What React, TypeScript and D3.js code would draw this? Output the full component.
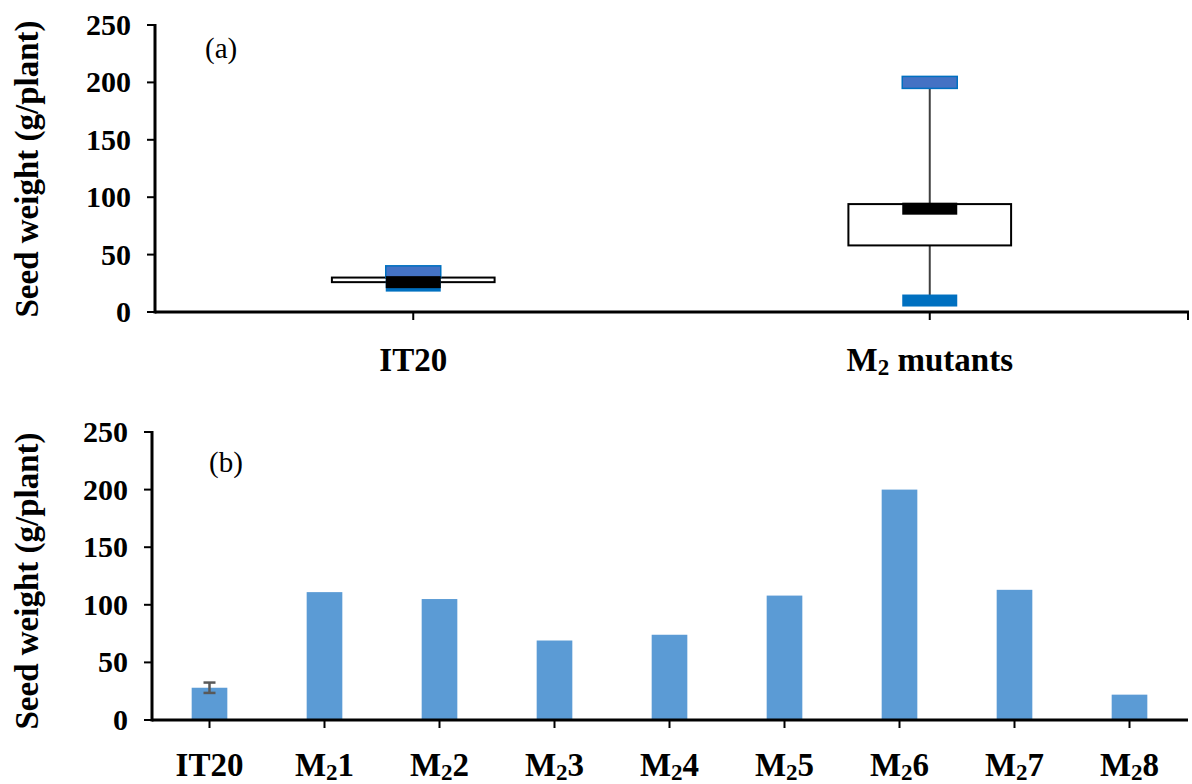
import React from "react";
import * as d3 from "d3";

// panel (a) box summary
const boxCategories = ["IT20", "M2 mutants"];
const boxMin = [23, 10];
const boxQ1 = [26, 58];
const boxMedian = [26, 90];
const boxQ3 = [30, 94];
const boxMax = [35, 200];

// panel (b) bars
const barCategories = ["IT20", "M21", "M22", "M23", "M24", "M25", "M26", "M27", "M28"];
const barValues = [28, 111, 105, 69, 74, 108, 200, 113, 22];
const barErrors = [4.5, 0, 0, 0, 0, 0, 0, 0, 0];

const yTicks = [0, 50, 100, 150, 200, 250];

const FONT = "'Liberation Serif', 'Times New Roman', 'DejaVu Serif', serif";

// renders "M2..." with subscript 2
const CatLabel = ({ name, x, y, size }: { name: string; x: number; y: number; size: number }) => {
  if (!name.startsWith("M2")) {
    return (
      <text x={x} y={y} textAnchor="middle" fontFamily={FONT} fontWeight="bold" fontSize={size}>
        {name}
      </text>
    );
  }
  const rest = name.slice(2);
  return (
    <text x={x} y={y} textAnchor="middle" fontFamily={FONT} fontWeight="bold" fontSize={size}>
      M
      <tspan fontSize={size * 0.7} dy={size * 0.12}>2</tspan>
      <tspan dy={-size * 0.12}>{rest}</tspan>
    </text>
  );
};

const YAxis = ({ y, x0 }: { y: d3.ScaleLinear<number, number>; x0: number }) => (
  <g>
    <line x1={x0} x2={x0} y1={y(250) - 1} y2={y(0) + 1.5} stroke="#000" strokeWidth={3} />
    {yTicks.map((t) => (
      <g key={t}>
        <line x1={x0 - 8} x2={x0} y1={y(t)} y2={y(t)} stroke="#000" strokeWidth={2} />
        <text
          x={x0 - 24}
          y={y(t) + 10}
          textAnchor="end"
          fontFamily={FONT}
          fontWeight="bold"
          fontSize={30}
        >
          {t}
        </text>
      </g>
    ))}
  </g>
);

const App = () => {
  // ---- panel (a)
  const xa = d3.scaleBand<string>().domain(boxCategories).range([155, 1188]).padding(0);
  const ya = d3.scaleLinear().domain([0, 250]).range([312, 25]);
  const boxW = xa.bandwidth() * 0.315;
  const markW = 55;
  const markH = 12;

  // ---- panel (b)
  const xb = d3.scaleBand<string>().domain(barCategories).range([152, 1187]).padding(0);
  const yb = d3.scaleLinear().domain([0, 250]).range([720, 432]);
  const barW = xb.bandwidth() * 0.31;

  return (
    <svg
      width={1192}
      height={784}
      style={{ position: "absolute", left: 0, top: 0, background: "#fff" }}
    >
      {/* ===== panel (a) ===== */}
      <rect x={178} y={15} width={92} height={60} fill="#fff" />
      <text x={205} y={58} fontFamily={FONT} fontSize={29}>(a)</text>
      <text
        transform={`translate(38,169) rotate(-90)`}
        textAnchor="middle"
        fontFamily={FONT}
        fontWeight="bold"
        fontSize={33}
      >
        Seed weight (g/plant)
      </text>

      {boxCategories.map((c, i) => {
        const cx = (xa(c) as number) + xa.bandwidth() / 2;
        return (
          <g key={c}>
            {/* whiskers */}
            <line x1={cx} x2={cx} y1={ya(boxMax[i])} y2={ya(boxQ3[i])} stroke="#404040" strokeWidth={2} />
            <line x1={cx} x2={cx} y1={ya(boxQ1[i])} y2={ya(boxMin[i])} stroke="#404040" strokeWidth={2} />
            {/* box */}
            <rect
              x={cx - boxW / 2}
              y={ya(boxQ3[i])}
              width={boxW}
              height={Math.max(ya(boxQ1[i]) - ya(boxQ3[i]), 3)}
              fill="#fff"
              stroke="#000"
              strokeWidth={2}
            />
            {/* min marker */}
            <rect x={cx - markW / 2} y={ya(boxMin[i]) - markH / 2} width={markW} height={markH} fill="#0070c0" />
            {/* max marker */}
            <rect
              x={cx - markW / 2}
              y={ya(boxMax[i]) - markH / 2}
              width={markW}
              height={markH}
              fill="#4472c4"
              stroke="#0070c0"
              strokeWidth={1.5}
            />
            {/* median */}
            <rect x={cx - markW / 2} y={ya(boxMedian[i]) - markH / 2} width={markW} height={markH} fill="#000" />
          </g>
        );
      })}

      <YAxis y={ya} x0={155} />
      <line x1={155} x2={1189} y1={ya(0)} y2={ya(0)} stroke="#000" strokeWidth={3} />
      {boxCategories.map((c) => {
        const cx = (xa(c) as number) + xa.bandwidth() / 2;
        return <line key={c} x1={cx} x2={cx} y1={ya(0)} y2={ya(0) + 8} stroke="#000" strokeWidth={2} />;
      })}
      <line x1={1188} x2={1188} y1={ya(0)} y2={ya(0) + 8} stroke="#000" strokeWidth={2} />
      {boxCategories.map((c) => (
        <CatLabel key={c} name={c} x={(xa(c) as number) + xa.bandwidth() / 2} y={371} size={33} />
      ))}

      {/* ===== panel (b) ===== */}
      <rect x={183} y={430} width={95} height={62} fill="#fff" />
      <text x={209} y={472} fontFamily={FONT} fontSize={29}>(b)</text>
      <text
        transform={`translate(38,581) rotate(-90)`}
        textAnchor="middle"
        fontFamily={FONT}
        fontWeight="bold"
        fontSize={33}
      >
        Seed weight (g/plant)
      </text>

      {barCategories.map((c, i) => {
        const cx = (xb(c) as number) + xb.bandwidth() / 2;
        return (
          <g key={c}>
            <rect
              x={cx - barW / 2}
              y={yb(barValues[i])}
              width={barW}
              height={yb(0) - yb(barValues[i])}
              fill="#5b9bd5"
            />
            {barErrors[i] > 0 && (
              <g stroke="#595959" strokeWidth={2.5}>
                <line x1={cx} x2={cx} y1={yb(barValues[i] + barErrors[i])} y2={yb(barValues[i] - barErrors[i])} />
                <line x1={cx - 6} x2={cx + 6} y1={yb(barValues[i] + barErrors[i])} y2={yb(barValues[i] + barErrors[i])} />
                <line x1={cx - 6} x2={cx + 6} y1={yb(barValues[i] - barErrors[i])} y2={yb(barValues[i] - barErrors[i])} />
              </g>
            )}
          </g>
        );
      })}

      <YAxis y={yb} x0={152} />
      <line x1={152} x2={1188} y1={yb(0)} y2={yb(0)} stroke="#000" strokeWidth={3} />
      {barCategories.map((c) => {
        const cx = (xb(c) as number) + xb.bandwidth() / 2;
        return <line key={c} x1={cx} x2={cx} y1={yb(0)} y2={yb(0) + 8} stroke="#000" strokeWidth={2} />;
      })}
      {barCategories.map((c) => (
        <CatLabel key={c} name={c} x={(xb(c) as number) + xb.bandwidth() / 2} y={776} size={33} />
      ))}
    </svg>
  );
};

export default App;
